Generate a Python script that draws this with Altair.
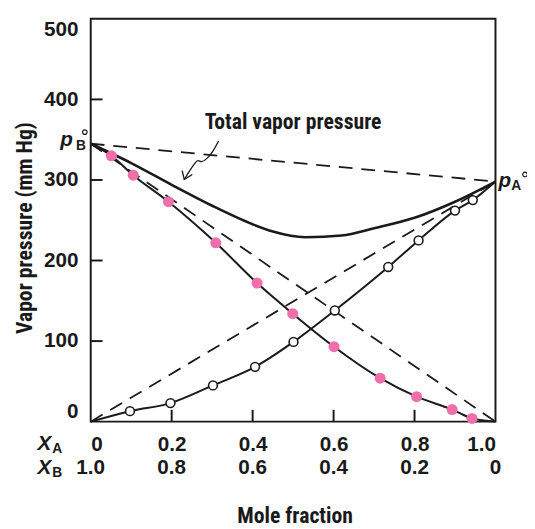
import altair as alt
import pandas as pd

# ---- data ----
pB0 = 345   # vapor pressure of pure B (mm Hg)
pA0 = 298   # vapor pressure of pure A (mm Hg)

# partial pressure of B (filled pink points) vs X_A
xa_B = [0.051, 0.105, 0.192, 0.309, 0.411, 0.499, 0.601, 0.715, 0.805, 0.893, 0.942]
p_B = [330, 306, 273, 222, 172, 134, 93, 54, 31, 15, 4]

# partial pressure of A (open points) vs X_A
xa_A = [0.097, 0.197, 0.302, 0.406, 0.501, 0.603, 0.735, 0.810, 0.900, 0.944]
p_A = [13, 23, 45, 68, 99, 138, 192, 225, 262, 275]

# total vapor pressure curve
total_x = [0, 0.1, 0.2, 0.3, 0.4, 0.45, 0.53, 0.62, 0.7, 0.8, 0.9, 1.0]
total_p = [345, 321, 294, 268, 245, 236, 229, 231, 240, 253, 273, 298]

# annotation arrow (squiggle) in data units
arrow_x = [0.316, 0.302, 0.285, 0.273, 0.265, 0.258, 0.246, 0.231]
arrow_p = [348.4, 335, 325.2, 321.5, 325.2, 321.5, 312.9, 300.7]
head_x = [0.226, 0.231, 0.251]
head_p = [311.7, 300.7, 306.8]

x_ticks = [0, 0.2, 0.4, 0.6, 0.8, 1.0]
xb_labels = ["1.0", "0.8", "0.6", "0.4", "0.2", "0"]
y_ticks = [0, 100, 200, 300, 400, 500]
inner_x_ticks = [0.2, 0.4, 0.6, 0.8]
inner_y_ticks = [100, 200, 300, 400]

NARROW = "Liberation Sans Narrow, Roboto Condensed, DejaVu Sans Condensed, Liberation Sans, sans-serif"
SANS = "Liberation Sans, Arial, sans-serif"
PINK = "#EE6FA9"
INK = "#1a1a1a"

# ---- tables ----
dfB = pd.DataFrame({"x": xa_B, "p": p_B})
dfA = pd.DataFrame({"x": xa_A, "p": p_A})
lineB = pd.DataFrame({"x": [0] + xa_B + [1], "p": [pB0] + p_B + [0]})
lineA = pd.DataFrame({"x": [0] + xa_A + [1], "p": [0] + p_A + [pA0]})
dfT = pd.DataFrame({"x": total_x, "p": total_p})
dash_df = pd.DataFrame({
    "x": [0, 1, 0, 1, 0, 1],
    "p": [pB0, pA0, pB0, 0, 0, pA0],
    "g": ["top", "top", "B", "B", "A", "A"],
})
arrow_df = pd.DataFrame({"x": arrow_x, "p": arrow_p, "o": list(range(len(arrow_x)))})
head_df = pd.DataFrame({"x": head_x, "p": head_p, "o": list(range(len(head_x)))})
xb_df = pd.DataFrame({"x": x_ticks, "lab": xb_labels})
xt_df = pd.DataFrame({"x": inner_x_ticks})
yt_df = pd.DataFrame({"p": inner_y_ticks})
lab_df = pd.DataFrame({"x": [0.5], "p": [363], "t": ["Total vapor pressure"]})

xscale = alt.Scale(domain=[0, 1], nice=False, zero=False)
yscale = alt.Scale(domain=[0, 500], nice=False)

label_expr = "datum.value == 0 ? '0' : format(datum.value, '.1f')"

x_enc = alt.X(
    "x:Q", scale=xscale,
    axis=alt.Axis(
        values=x_ticks, labelExpr=label_expr, ticks=False, tickSize=0, domain=False, grid=False,
        labelFlush=True, labelPadding=29, labelBaseline="alphabetic",
        labelFont=SANS, labelFontSize=21, labelFontWeight="bold", labelColor=INK,
        title="Mole fraction", titleFont=NARROW, titleFontSize=22, titleFontWeight="bold",
        titleColor=INK, titleBaseline="alphabetic", titleY=102, titleX=207,
        titleAlign="center",
    ),
)
y_enc = alt.Y(
    "p:Q", scale=yscale,
    axis=alt.Axis(
        values=y_ticks, ticks=False, tickSize=0, domain=False, grid=False,
        labelFlush=True, labelPadding=13,
        labelFont=SANS, labelFontSize=21, labelFontWeight="bold", labelColor=INK,
        title="Vapor pressure (mm Hg)", titleFont=NARROW, titleFontSize=22,
        titleFontWeight="bold", titleColor=INK, titleAngle=270,
        titleBaseline="alphabetic", titleAlign="center", titleX=-60, titleY=212,
    ),
)

dashed = alt.Chart(dash_df).mark_line(
    color=INK, strokeWidth=1.8, strokeDash=[14, 9]
).encode(x=x_enc, y=y_enc, detail="g:N")

curveB = alt.Chart(lineB).mark_line(
    color=INK, strokeWidth=2, interpolate="monotone"
).encode(x=x_enc, y=y_enc)

curveA = alt.Chart(lineA).mark_line(
    color=INK, strokeWidth=2, interpolate="monotone"
).encode(x=x_enc, y=y_enc)

curveT = alt.Chart(dfT).mark_line(
    color=INK, strokeWidth=2.6, interpolate="monotone"
).encode(x=x_enc, y=y_enc)

ptsB = alt.Chart(dfB).mark_circle(color=PINK, size=125, opacity=1).encode(x=x_enc, y=y_enc)
ptsA = alt.Chart(dfA).mark_circle(
    color="white", stroke=INK, strokeWidth=1.6, size=80, opacity=1
).encode(x=x_enc, y=y_enc)

arrow = alt.Chart(arrow_df).mark_line(
    color=INK, strokeWidth=1.3, interpolate="basis"
).encode(x=x_enc, y=y_enc, order="o:Q")
head = alt.Chart(head_df).mark_line(color=INK, strokeWidth=1.3).encode(
    x=x_enc, y=y_enc, order="o:Q"
)

total_label = alt.Chart(lab_df).mark_text(
    font=NARROW, fontSize=22, fontWeight="bold", color=INK,
    align="center", baseline="alphabetic",
).encode(x=x_enc, y=y_enc, text="t:N")

xticks = alt.Chart(xt_df).mark_rule(color=INK, strokeWidth=2).encode(
    x=x_enc, y=alt.value(409), y2=alt.value(397)
)
yticks = alt.Chart(yt_df).mark_rule(color=INK, strokeWidth=2).encode(
    y=y_enc, x=alt.value(0), x2=alt.value(12)
)

xb_row = alt.Chart(xb_df).mark_text(
    font=SANS, fontSize=21, fontWeight="bold", color=INK,
    align="center", baseline="alphabetic",
).encode(x=x_enc, y=alt.value(462), text="lab:N")


def txt(t, px, py, size, style="normal", align="left", font=SANS):
    return alt.Chart(pd.DataFrame({"t": [t]})).mark_text(
        font=font, fontSize=size, fontWeight="bold", fontStyle=style,
        color=INK, align=align, baseline="alphabetic",
    ).encode(x=alt.value(px), y=alt.value(py), text="t:N")


def deg(px, py):
    return alt.Chart(pd.DataFrame({"t": [0]})).mark_point(
        shape="circle", filled=False, color=INK, strokeWidth=1.2, size=22, opacity=1
    ).encode(x=alt.value(px), y=alt.value(py))


# page coords -> plot coords: subtract (92, 15)
labels = [
    txt("X", -54, 438, 21, "italic"),
    txt("A", -39, 441, 14),
    txt("X", -54, 462, 21, "italic"),
    txt("B", -39, 465, 14),
    txt("p", -31, 129, 21, "italic"),
    txt("B", -15, 133, 14),
    deg(-6, 115),
    txt("p", 414, 171, 21, "italic"),
    txt("A", 427, 174, 14),
    deg(441, 158),
]

chart = alt.layer(
    dashed, curveT, curveB, curveA, ptsB, ptsA, arrow, head, total_label,
    xticks, yticks, xb_row, *labels,
).properties(
    width=411, height=409,
    padding={"left": 84, "top": 7, "right": 32, "bottom": 105},
    autosize=alt.AutoSizeParams(type="none"),
    background="white",
).configure_view(stroke=INK, strokeWidth=2)

chart.save("out.html", embed_options={"renderer": "svg", "actions": False})
